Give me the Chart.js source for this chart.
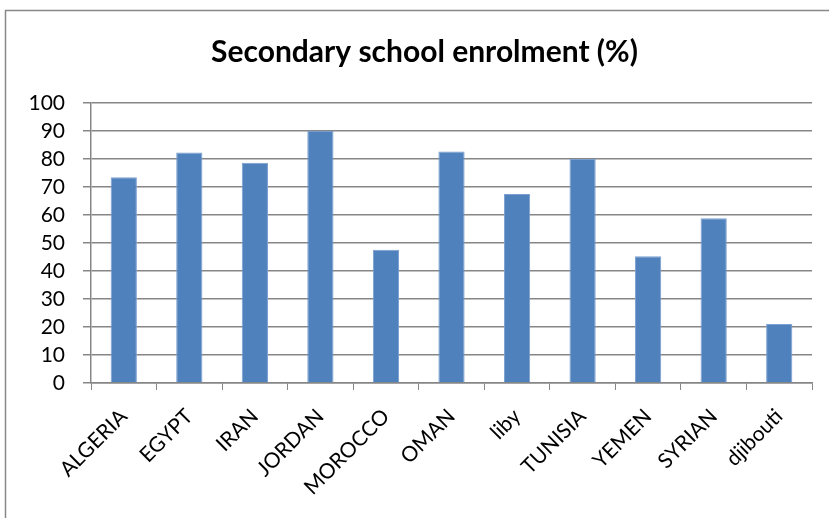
<!DOCTYPE html>
<html>
<head>
<meta charset="utf-8">
<script src="https://cdn.jsdelivr.net/npm/chart.js@4"></script>
<style>
  html, body { margin: 0; padding: 0; background: #fff; }
  #wrap { width: 829px; height: 518px; position: relative; }
</style>
</head>
<body>
<div id="wrap"><canvas id="chart" width="829" height="518"></canvas></div>
<script>
const countries = ['ALGERIA', 'EGYPT', 'IRAN', 'JORDAN', 'MOROCCO', 'OMAN', 'liby', 'TUNISIA', 'YEMEN', 'SYRIAN', 'djibouti'];
const enrolment = [73.5, 82.3, 78.7, 90.1, 47.6, 82.7, 67.5, 80.0, 45.3, 58.8, 21.1];
const yTicks = [0, 10, 20, 30, 40, 50, 60, 70, 80, 90, 100];

const axisGray = '#868686';

// outer frame like the spreadsheet chart box
const framePlugin = {
    id: 'frame',
    beforeDraw: (chart) => {
        const { ctx } = chart;
        ctx.save();
        ctx.fillStyle = '#fff';
        ctx.fillRect(0, 0, chart.width, chart.height);
        ctx.strokeStyle = '#888';
        ctx.lineWidth = 1.5;
        ctx.strokeRect(5.5, 10.5, 900, 600);
        ctx.restore();
    },
    // the title in the reference sits a bit right of the plot centre
    afterLayout: (chart) => {
        if (chart.titleBlock) {
            chart.titleBlock.left = 37;
            chart.titleBlock.right = 812;
        }
    }
};

new Chart(document.getElementById('chart'), {
    type: 'bar',
    data: {
        labels: countries,
        datasets: [{
            label: 'Secondary school enrolment (%)',
            data: enrolment,
            backgroundColor: '#4F81BD',
            borderColor: '#7a9fd0',
            borderWidth: { top: 1, left: 1, right: 1, bottom: 0 },
            barPercentage: 0.4,
            categoryPercentage: 1.0
        }]
    },
    options: {
        responsive: false,
        animation: false,
        layout: { padding: { left: 0, right: 17, top: 0, bottom: 0 } },
        plugins: {
            legend: { display: false },
            tooltip: { enabled: false },
            title: {
                display: true,
                text: 'Secondary school enrolment (%)',
                color: '#000',
                font: { family: 'Lato', size: 30, weight: 'bold', lineHeight: 1.2 },
                padding: { top: 34, bottom: 33 }
            }
        },
        scales: {
            x: {
                offset: true,
                grid: {
                    offset: true,
                    drawOnChartArea: false,
                    drawTicks: true,
                    tickLength: 7,
                    color: axisGray
                },
                border: { display: true, color: axisGray, width: 1.5 },
                ticks: {
                    color: '#000',
                    font: { family: 'Lato', size: 21 },
                    minRotation: 45,
                    maxRotation: 45,
                    autoSkip: false,
                    padding: 14
                },
                afterFit: (scale) => { scale.height = 135; }
            },
            y: {
                min: 0,
                max: 100,
                afterBuildTicks: (scale) => { scale.ticks = yTicks.map(v => ({ value: v })); },
                grid: {
                    color: axisGray,
                    lineWidth: 1.5,
                    drawTicks: true,
                    tickLength: 8
                },
                border: { display: true, color: axisGray, width: 1.5 },
                ticks: {
                    color: '#000',
                    font: { family: 'Lato', size: 21 },
                    padding: 18,
                    autoSkip: false
                },
                afterFit: (scale) => { scale.width = 91; }
            }
        }
    },
    plugins: [framePlugin]
});
</script>
</body>
</html>
